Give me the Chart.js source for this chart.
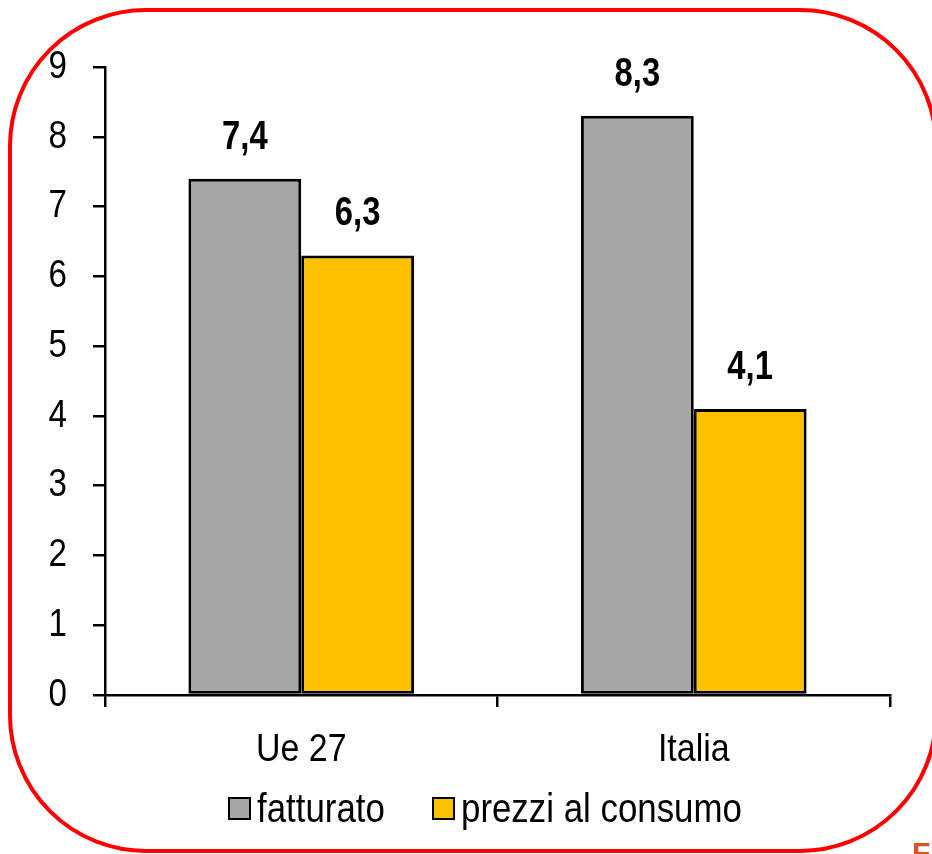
<!DOCTYPE html>
<html lang="it">
<head>
<meta charset="utf-8">
<title>Fatturato e prezzi al consumo</title>
<script src="https://cdn.jsdelivr.net/npm/chart.js@4.4.1/dist/chart.umd.min.js"></script>
<style>
    html, body { margin: 0; padding: 0; background: #fff; }
    .stage { position: relative; width: 932px; height: 854px; overflow: hidden; }
    .frame {
        position: absolute; left: 8px; top: 8px; width: 930px; height: 845px;
        box-sizing: border-box; border: 4px solid #ff0000; border-radius: 138px;
    }
    #chart { position: absolute; left: 0; top: 0; }
    .legend {
        position: absolute; left: 228px; top: 784px; height: 48px;
        display: flex; align-items: center; white-space: nowrap;
        font-family: 'Liberation Sans', Arial, sans-serif;
        font-size: 41px; color: #000;
    }
    .legend-item { display: flex; align-items: center; margin-right: 47px; }
    .legend-box { width: 19px; height: 19px; border: 2.5px solid #000; margin-right: 6px; }
    .legend-text { display: inline-block; transform: scaleX(0.85); transform-origin: left center; }
    .corner-text {
        position: absolute; left: 912px; top: 836px;
        font-family: 'Liberation Sans', sans-serif; font-weight: bold; font-size: 30px; color: #d9541e;
    }
</style>
</head>
<body>
<div class="stage">
    <div class="frame"></div>
    <canvas id="chart" width="932" height="854"></canvas>
    <div class="legend" id="legend"></div>
    <div class="corner-text">FE</div>
</div>
<script>
// Data
const categories = ['Ue 27', 'Italia'];
const seriesNames = ['fatturato', 'prezzi al consumo'];
const fatturato = [7.4, 8.3];
const prezziConsumo = [6.3, 4.1];
const yTicks = [0, 1, 2, 3, 4, 5, 6, 7, 8, 9];

const FONT = "'Liberation Sans', Arial, sans-serif";
const colors = ['#a6a6a6', '#ffc000'];

// Narrow text (Arial Narrow look) drawn by squeezing the canvas horizontally
function narrowText(ctx, text, x, y, sx) {
    ctx.save();
    ctx.translate(x, y);
    ctx.scale(sx, 1);
    ctx.fillText(text, 0, 0);
    ctx.restore();
}

// Axis labels taken from the scales' own ticks
const narrowAxisLabels = {
    id: 'narrowAxisLabels',
    afterDraw(chart) {
        const ctx = chart.ctx;
        const ys = chart.scales.y;
        const xs = chart.scales.x;
        ctx.save();
        ctx.fillStyle = '#000';
        ctx.font = '39px ' + FONT;

        ctx.textAlign = 'right';
        ctx.textBaseline = 'middle';
        ys.ticks.forEach((t, i) => {
            narrowText(ctx, String(t.value), 67, ys.getPixelForTick(i), 0.85);
        });

        ctx.textAlign = 'center';
        ctx.textBaseline = 'alphabetic';
        xs.ticks.forEach((t, i) => {
            narrowText(ctx, categories[t.value], xs.getPixelForTick(i), xs.top + 66, 0.87);
        });
        ctx.restore();
    }
};

// Bold value labels above each bar (decimal comma)
const valueLabels = {
    id: 'valueLabels',
    afterDatasetsDraw(chart) {
        const ctx = chart.ctx;
        ctx.save();
        ctx.font = 'bold 40px ' + FONT;
        ctx.fillStyle = '#000';
        ctx.textAlign = 'center';
        ctx.textBaseline = 'alphabetic';
        chart.data.datasets.forEach((ds, i) => {
            chart.getDatasetMeta(i).data.forEach((bar, j) => {
                const txt = ds.data[j].toFixed(1).replace('.', ',');
                narrowText(ctx, txt, bar.x, bar.y - 30, 0.82);
            });
        });
        ctx.restore();
    }
};

const chart = new Chart(document.getElementById('chart'), {
    type: 'bar',
    data: {
        labels: categories,
        datasets: [
            { label: seriesNames[0], data: fatturato, backgroundColor: colors[0] },
            { label: seriesNames[1], data: prezziConsumo, backgroundColor: colors[1] }
        ]
    },
    options: {
        responsive: false,
        animation: false,
        events: [],
        layout: { padding: { left: 0, top: 67, right: 42, bottom: 0 } },
        datasets: {
            bar: {
                borderColor: '#000',
                borderWidth: 3,
                borderSkipped: false,
                categoryPercentage: 0.575,
                barPercentage: 1.0
            }
        },
        plugins: {
            legend: { display: false },
            tooltip: { enabled: false }
        },
        scales: {
            y: {
                min: 0,
                max: 9,
                afterBuildTicks: (s) => { s.ticks = yTicks.map(v => ({ value: v })); },
                afterFit: (s) => { s.width = 105; },
                ticks: { display: false },
                grid: { drawOnChartArea: false, drawTicks: true, tickLength: 12, color: '#000', lineWidth: 2.5 },
                border: { display: true, color: '#000', width: 2.5 }
            },
            x: {
                afterFit: (s) => { s.height = 159; },
                ticks: { display: false },
                grid: { drawOnChartArea: false, drawTicks: true, tickLength: 12, color: '#000', lineWidth: 2.5 },
                border: { display: true, color: '#000', width: 2.5 }
            }
        }
    },
    plugins: [valueLabels, narrowAxisLabels]
});

// HTML legend built from the chart datasets
const legendEl = document.getElementById('legend');
chart.data.datasets.forEach(ds => {
    const item = document.createElement('div');
    item.className = 'legend-item';
    const box = document.createElement('span');
    box.className = 'legend-box';
    box.style.background = ds.backgroundColor;
    const txt = document.createElement('span');
    txt.className = 'legend-text';
    txt.textContent = ds.label;
    item.appendChild(box);
    item.appendChild(txt);
    legendEl.appendChild(item);
    // compensate the horizontal squeeze in the layout width
    txt.style.marginRight = (-0.15 * txt.offsetWidth) + 'px';
});
</script>
</body>
</html>
